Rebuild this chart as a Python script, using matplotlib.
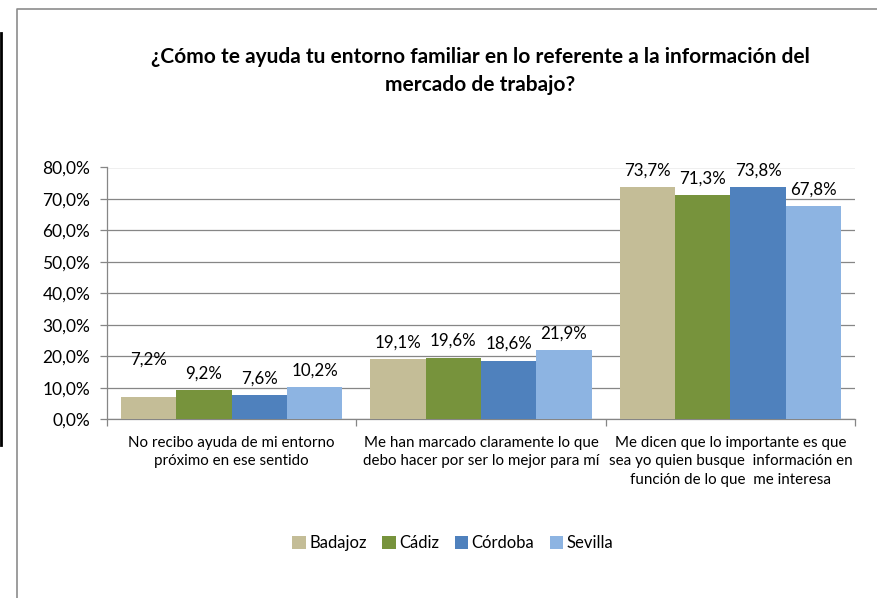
import matplotlib
matplotlib.use("Agg")
import matplotlib.pyplot as plt
from matplotlib.lines import Line2D
import numpy as np

plt.rcParams['font.family'] = ['Lato', 'DejaVu Sans']

title = "¿Cómo te ayuda tu entorno familiar en lo referente a la información del\nmercado de trabajo?"
categories = [
    "No recibo ayuda de mi entorno\npróximo en ese sentido",
    "Me han marcado claramente lo que\ndebo hacer por ser lo mejor para mí",
    "Me dicen que lo importante es que\nsea yo quien busque  información en\nfunción de lo que  me interesa",
]
series_names = ["Badajoz", "Cádiz", "Córdoba", "Sevilla"]
badajoz = [7.2, 19.1, 73.7]
cadiz = [9.2, 19.6, 71.3]
cordoba = [7.6, 18.6, 73.8]
sevilla = [10.2, 21.9, 67.8]
series_values = [badajoz, cadiz, cordoba, sevilla]
colors = ["#C4BD97", "#77933C", "#4F81BD", "#8DB4E2"]
yticks = [0, 10, 20, 30, 40, 50, 60, 70, 80]

# extra label lift (points) per series/category, to mimic the reference placement
extra_lift = [[15, 0, 0], [0, 0, 0], [0, 0, 0], [0, 0, 0]]

fig = plt.figure(figsize=(8.78, 5.98), dpi=100)
fig.patch.set_facecolor("white")

# outer frame (top and left edges only; the rest is cropped in the reference)
fig.add_artist(Line2D([17/878, 17/878, 1.01], [0.0, 1-9/598, 1-9/598], transform=fig.transFigure,
                      color="#8C8C8C", linewidth=1.2))
fig.add_artist(Line2D([1.5/878, 1.5/878], [1-33/598, 1-445/598], transform=fig.transFigure,
                      color="black", linewidth=2))

ax = fig.add_axes([107/878, (598-419.3)/598, (855-107)/878, (419.3-167.5)/598])

x = np.arange(len(categories))
bw = 0.222
n = len(series_names)
for i, (name, vals, c) in enumerate(zip(series_names, series_values, colors)):
    pos = x + (i - (n-1)/2) * bw
    ax.bar(pos, vals, width=bw, color=c, label=name, zorder=3)
    for j, (px, v) in enumerate(zip(pos, vals)):
        ax.annotate(f"{v:.1f}%".replace(".", ","), (px, v), xytext=(0, 12 + extra_lift[i][j]),
                    textcoords="offset points", ha="center", va="center", fontsize=12.2,
                    color="black", zorder=4)

ax.set_xlim(-0.5, 2.5)
ax.set_ylim(0, 80)
ax.set_yticks(yticks)
ax.set_yticklabels([f"{t:.1f}%".replace(".", ",") for t in yticks], fontsize=12.5)
ax.grid(axis="y", color="#868686", linewidth=0.9, zorder=0)
ax.set_axisbelow(True)

ax.set_xticks(x)
ax.set_xticklabels(categories, fontsize=10.9, linespacing=1.4, va="top")
ax.tick_params(axis="x", length=0, pad=12)
ax.set_xticks([-0.5, 0.5, 1.5, 2.5], minor=True)
ax.tick_params(axis="x", which="minor", length=5, color="#868686", width=0.9)
ax.tick_params(axis="y", length=5, color="#868686", width=0.9, pad=7)

for s in ["top", "right"]:
    ax.spines[s].set_visible(False)
for s in ["left", "bottom"]:
    ax.spines[s].set_color("#868686")
    ax.spines[s].set_linewidth(0.9)

fig.text(480/878, 1-71/598, title, ha="center", va="center", fontsize=15,
         fontweight="bold", linespacing=1.55)

fig.legend(loc="center", bbox_to_anchor=(453/878, 1-543/598), ncol=4, frameon=False,
           fontsize=12, handlelength=0.8, handleheight=0.8, handletextpad=0.2,
           columnspacing=0.95)

fig.savefig("out.png", dpi=100, facecolor="white")
